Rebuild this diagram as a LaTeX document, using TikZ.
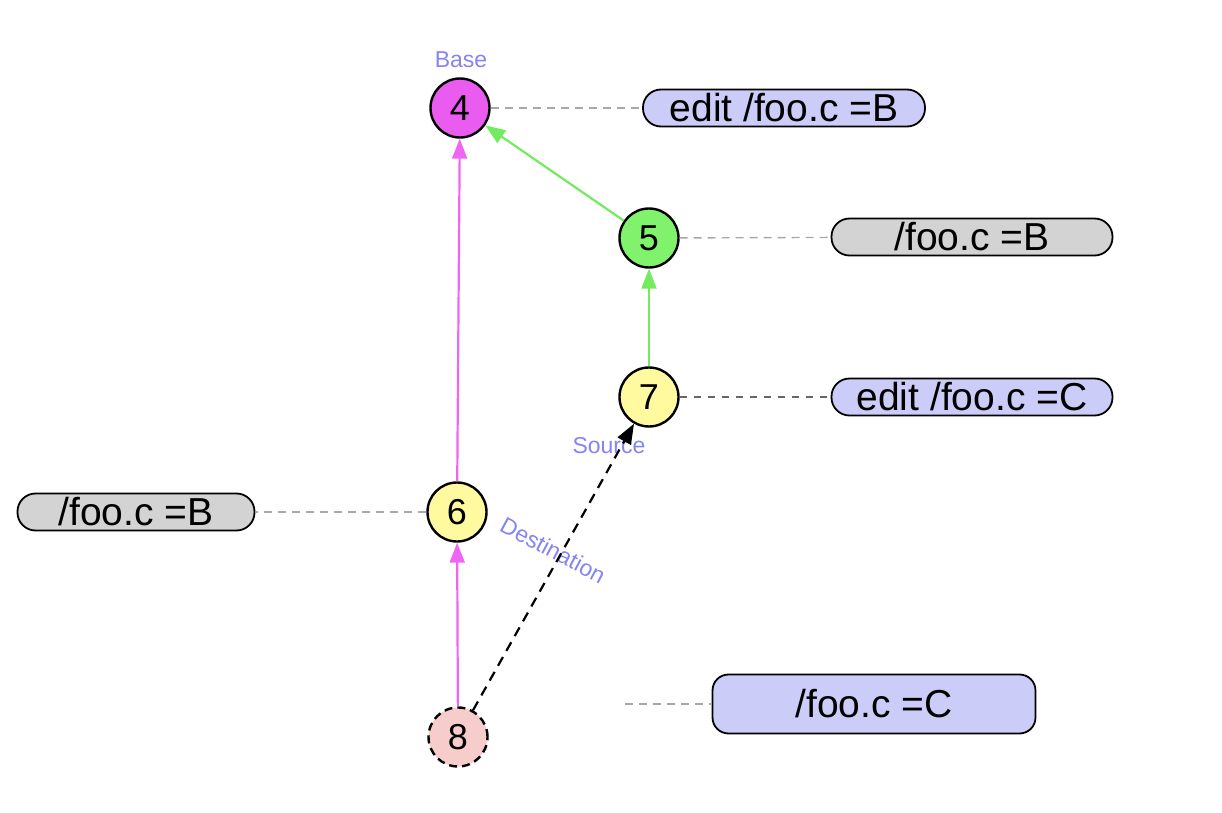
\documentclass[tikz,border=0pt]{standalone}
\usepackage{fontspec}
\setmainfont{Liberation Sans}
\usetikzlibrary{arrows.meta}
\definecolor{revmag}{HTML}{EA5CF0}
\definecolor{revgreen}{HTML}{80F26C}
\definecolor{revyellow}{HTML}{FFFAA0}
\definecolor{revpink}{HTML}{F6CDCB}
\definecolor{taglav}{HTML}{CCCCF8}
\definecolor{taggray}{HTML}{D3D3D3}
\definecolor{lblblue}{HTML}{8484F5}
\definecolor{edgegreen}{HTML}{74EA5E}
\definecolor{edgemag}{HTML}{EE66F2}
\definecolor{linkgray}{HTML}{A8A8A8}

\begin{document}
\begin{tikzpicture}[x=0.5pt,y=-0.5pt,
  rev/.style={circle,draw,line width=1.2pt,minimum size=29.5pt,inner sep=0pt,font=\fontsize{18}{18}\selectfont},
  tag/.style={draw,line width=0.9pt,rounded corners=9pt,minimum height=18.5pt,inner sep=0pt,font=\fontsize{19.5}{19.5}\selectfont},
  lbl/.style={text=lblblue,font=\fontsize{11.5}{11.5}\selectfont},
  link/.style={linkgray,line width=0.7pt,dash pattern=on 4pt off 3pt},
  edge/.style={line width=1.1pt,-{Triangle[length=10pt,width=7.5pt]}}]
\useasboundingbox (0,0) rectangle (1222,813);
\node[rev,fill=revmag] (n4) at (460,108) {4};
\node[rev,fill=revgreen] (n5) at (649,238) {5};
\node[rev,fill=revyellow] (n7) at (649,397) {7};
\node[rev,fill=revyellow] (n6) at (457,512) {6};
\node[rev,fill=revpink,dash pattern=on 4pt off 2.5pt] (n8) at (458,737) {8};
\node[tag,fill=taglav,minimum width=141pt] (t4) at (784,108) {edit /foo.c =B};
\node[tag,fill=taggray,minimum width=140.5pt] (t5) at (972,237) {/foo.c =B};
\node[tag,fill=taglav,minimum width=140.5pt] (t7) at (972,397) {edit /foo.c =C};
\node[tag,fill=taggray,minimum width=118.5pt] (t6) at (136,512) {/foo.c =B};
\node[tag,fill=taglav,minimum width=161.5pt,minimum height=29.5pt,rounded corners=8pt] (t8) at (874,704) {/foo.c =C};
\coordinate (c8) at (625,704);
\node[lbl] (base) at (461,60) {Base};
\node[lbl] (src) at (609,446) {Source};
\node[lbl,rotate=-28] (dst) at (553,550) {Destination};
\draw[link] (n4) -- (t4);
\draw[link] (n5) -- (t5);
\draw[link,black!60,dash pattern=on 3.5pt off 3.5pt] (n7) -- (t7);
\draw[link] (n6) -- (t6);
\draw[link] (c8) -- (t8);
\draw[edge,edgegreen] (n5) -- (n4);
\draw[edge,edgegreen] (n7) -- (n5);
\draw[edge,edgemag] (n6) -- (n4);
\draw[edge,edgemag] (n8) -- (n6);
\draw[edge,dash pattern=on 5pt off 3.5pt] (n8) -- (n7);
\end{tikzpicture}
\end{document}
